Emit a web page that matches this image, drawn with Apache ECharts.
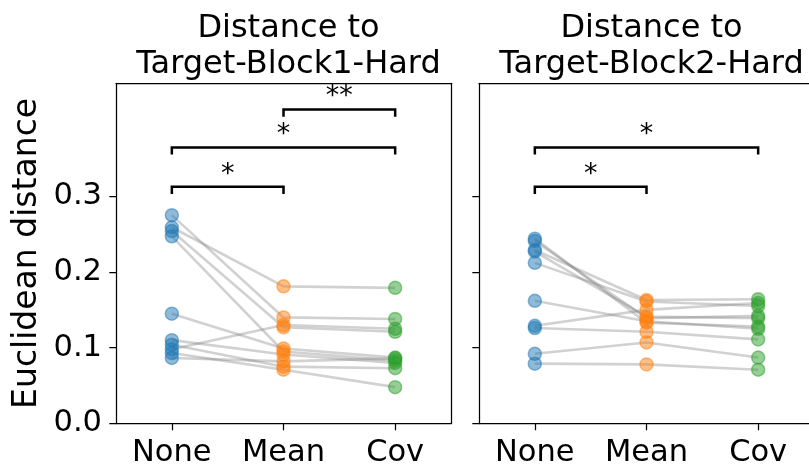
<!DOCTYPE html>
<html>
<head>
<meta charset="utf-8">
<script src="https://cdn.jsdelivr.net/npm/echarts@6/dist/echarts.min.js"></script>
<style>html,body{margin:0;padding:0;background:#fff}#c{width:809px;height:468px}</style>
</head>
<body>
<div id="c"></div>
<script>
const categories = ['None', 'Mean', 'Cov'];
const titles = ['Distance to\nTarget-Block1-Hard', 'Distance to\nTarget-Block2-Hard'];
const yTicks = [0, 0.1, 0.2, 0.3];
const yLabel = 'Euclidean distance';

// Block1 panel, per subject
const b1None = [0.275, 0.259, 0.254, 0.247, 0.145, 0.098, 0.110, 0.104, 0.093, 0.0865];
const b1Mean = [0.140, 0.181, 0.127, 0.095, 0.099, 0.130, 0.091, 0.075, 0.071, 0.082];
const b1Cov  = [0.138, 0.179, 0.121, 0.083, 0.087, 0.125, 0.080, 0.073, 0.048, 0.086];

// Block2 panel, per subject
const b2None = [0.079, 0.092, 0.126, 0.129, 0.162, 0.244, 0.241, 0.229, 0.227, 0.212];
const b2Mean = [0.078, 0.107, 0.121, 0.150, 0.135, 0.133, 0.139, 0.163, 0.141, 0.161];
const b2Cov  = [0.071, 0.087, 0.111, 0.159, 0.125, 0.128, 0.142, 0.164, 0.139, 0.155];

// significance brackets: [fromIndex, toIndex, height, text]
const b1Brackets = [[0, 1, 0.3124, '*'], [0, 2, 0.3644, '*'], [1, 2, 0.4145, '**']];
const b2Brackets = [[0, 1, 0.3124, '*'], [0, 2, 0.3644, '*']];

const colors = ['rgba(31,119,180,0.5)', 'rgba(255,127,14,0.5)', 'rgba(44,160,44,0.5)'];
const FONT = 'DejaVu Sans';
const FS_TICK = 30.5;
const FS_TITLE = 32;
const FS_NAME = 33;
const Y_MAX = 0.449;

function panelSeries(idx, none, mean, cov, brackets) {
  const out = [];
  for (let i = 0; i < none.length; i++) {
    out.push({
      type: 'line', xAxisIndex: idx, yAxisIndex: idx, silent: true,
      data: [none[i], mean[i], cov[i]], symbol: 'none', z: 2,
      lineStyle: { color: 'rgba(128,128,128,0.36)', width: 2.6 }
    });
  }
  [none, mean, cov].forEach((arr, k) => {
    out.push({
      type: 'scatter', xAxisIndex: idx, yAxisIndex: idx, silent: true, z: 3,
      data: arr.map(v => [k, v]), symbolSize: 13,
      itemStyle: { color: colors[k], borderColor: colors[k], borderWidth: 1.5, opacity: 1 }
    });
  });
  out.push({
    type: 'custom', xAxisIndex: idx, yAxisIndex: idx, silent: true, z: 4,
    data: brackets,
    renderItem: function (params, api) {
      const p1 = api.coord([api.value(0), api.value(2)]);
      const p2 = api.coord([api.value(1), api.value(2)]);
      const pb = api.coord([api.value(0), api.value(2) - 0.0095]);
      const txt = brackets[params.dataIndex][3];
      return {
        type: 'group',
        children: [
          { type: 'polyline', shape: { points: [[p1[0], pb[1]], [p1[0], p1[1]], [p2[0], p2[1]], [p2[0], pb[1]]] },
            style: { stroke: '#000', lineWidth: 2.5, fill: null } },
          { type: 'text', style: { text: txt, x: (p1[0] + p2[0]) / 2, y: p1[1] - 12,
            textAlign: 'center', textVerticalAlign: 'middle', font: '27px "DejaVu Sans"', fill: '#000' } }
        ]
      };
    }
  });
  return out;
}

const chart = echarts.init(document.getElementById('c'), null, { renderer: 'canvas' });
const gridBase = { top: 83.3, height: 340.2, show: false, containLabel: false, outerBoundsMode: 'none' };
const grids = [
  Object.assign({ left: 116, width: 335 }, gridBase),
  Object.assign({ left: 479, width: 335 }, gridBase)
];
const spine = { show: true, onZero: false, lineStyle: { color: '#000', width: 1.25 } };
function xAxis(i) {
  return {
    type: 'category', gridIndex: i, data: categories, boundaryGap: true, position: 'bottom',
    axisLine: spine,
    axisTick: { show: true, alignWithLabel: true, length: 6.7, lineStyle: { color: '#000', width: 1.25 } },
    axisLabel: { show: true, color: '#000', fontSize: FS_TICK, fontFamily: FONT, margin: 14 },
    splitLine: { show: false }
  };
}
function xTop(i) {
  return { type: 'category', gridIndex: i, data: categories, position: 'top', boundaryGap: true,
    axisLine: spine, axisTick: { show: false }, axisLabel: { show: false }, splitLine: { show: false } };
}
function yAxis(i) {
  return {
    type: 'value', gridIndex: i, min: 0, max: Y_MAX, position: 'left',
    name: i === 0 ? yLabel : '', nameLocation: 'middle', nameGap: 72,
    nameTextStyle: { color: '#000', fontSize: FS_NAME, fontFamily: FONT },
    axisLine: spine,
    axisTick: { show: true, length: 6.7, customValues: yTicks, lineStyle: { color: '#000', width: 1.25 } },
    axisLabel: { show: i === 0, customValues: yTicks, color: '#000', fontSize: FS_TICK, fontFamily: FONT, margin: 14,
      formatter: v => v.toFixed(1) },
    splitLine: { show: false }
  };
}
function yRight(i) {
  return { type: 'value', gridIndex: i, position: 'right', min: 0, max: Y_MAX,
    axisLine: spine, axisTick: { show: false }, axisLabel: { show: false }, splitLine: { show: false } };
}
chart.setOption({
  animation: false,
  backgroundColor: '#fff',
  title: titles.map((t, i) => ({
    text: t, left: i === 0 ? 283.5 : 646.5, top: 6, textAlign: 'center',
    textStyle: { color: '#000', fontSize: FS_TITLE, fontWeight: 'normal', fontFamily: FONT, lineHeight: 35.5 }
  })),
  grid: grids,
  xAxis: [xAxis(0), xAxis(1), xTop(0), xTop(1)],
  yAxis: [yAxis(0), yAxis(1), yRight(0)],
  series: panelSeries(0, b1None, b1Mean, b1Cov, b1Brackets).concat(panelSeries(1, b2None, b2Mean, b2Cov, b2Brackets))
});
</script>
</body>
</html>
